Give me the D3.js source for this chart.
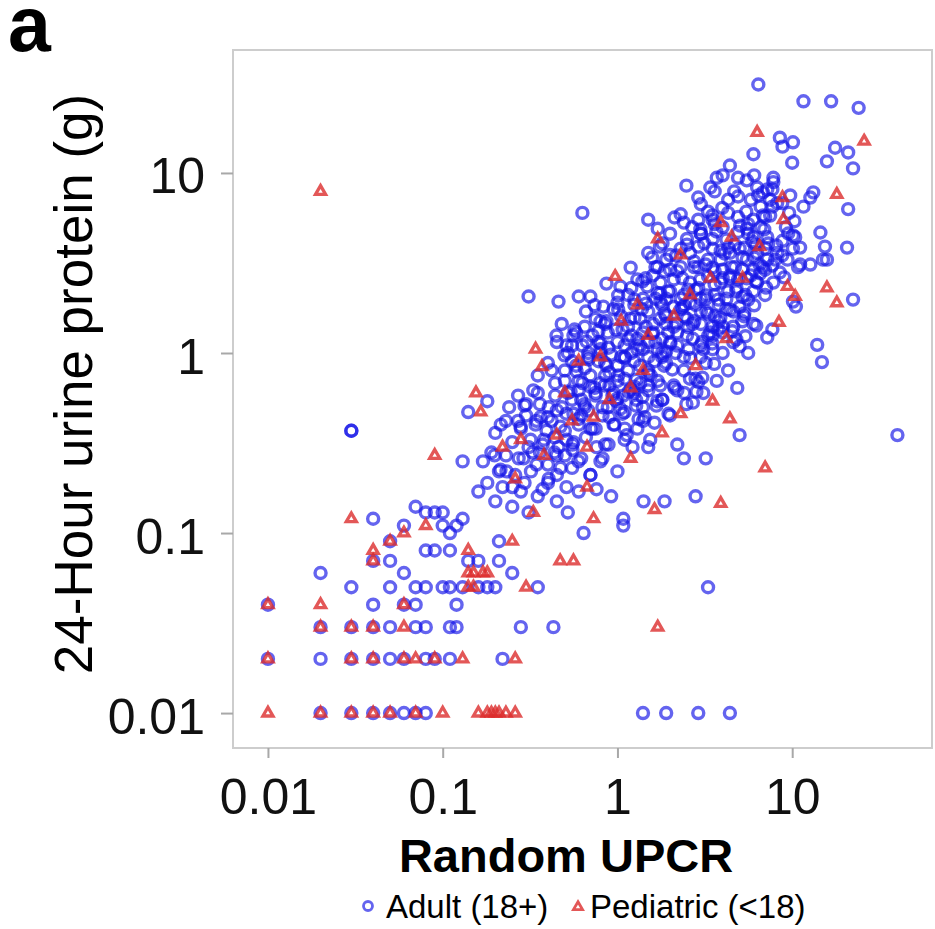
<!DOCTYPE html>
<html>
<head>
<meta charset="utf-8">
<script src="https://cdn.jsdelivr.net/npm/d3@7"></script>
<style>
  body { margin: 0; background: #fff; }
  svg { display: block; font-family: "Liberation Sans", Arial, sans-serif; }
</style>
</head>
<body>
<svg width="935" height="929"></svg>
<script>
// Adult (18+) points: [random UPCR, 24-hour urine protein (g)]
const adult = [
  // quantized low values
  [0.01,0.02],[0.01,0.04],
  [0.02,0.01],[0.03,0.01],[0.04,0.01],[0.05,0.01],[0.06,0.01],[0.07,0.01],[0.08,0.01],
  [1.4,0.01],[1.9,0.01],[2.9,0.01],[4.4,0.01],
  [0.02,0.02],[0.03,0.02],[0.04,0.02],[0.05,0.02],[0.06,0.02],[0.08,0.02],[0.09,0.02],[0.11,0.02],[0.22,0.02],
  [0.02,0.03],[0.03,0.03],[0.04,0.03],[0.05,0.03],[0.07,0.03],[0.08,0.03],[0.11,0.03],[0.12,0.03],[0.28,0.03],[0.43,0.03],
  [0.04,0.04],[0.06,0.04],[0.07,0.04],[0.12,0.04],
  [0.03,0.05],[0.05,0.05],[0.07,0.05],[0.08,0.05],[0.1,0.05],[0.11,0.05],[0.13,0.05],[0.16,0.05],[0.18,0.05],[0.2,0.05],[0.35,0.05],[3.3,0.05],
  [0.02,0.06],[0.06,0.06],[0.25,0.06],
  [0.04,0.07],[0.05,0.07],[0.14,0.07],[0.16,0.07],[0.21,0.07],
  [0.08,0.08],[0.09,0.08],[0.11,0.08],
  [0.05,0.09],[0.21,0.09],
  [0.06,0.11],[0.07,0.14],[0.08,0.13],[0.09,0.13],[0.1,0.13],[0.1,0.11],[0.11,0.1],[0.12,0.11],[0.13,0.12],[0.04,0.12],
  [0.03,0.37],[0.03,0.37],[0.13,0.25],
  // outliers and upper right
  [40,0.35],[0.63,6.0],
  [6.4,31],[11.6,25],[16.7,25],[24,23],[8.5,15.7],[10.1,14.8],[8.8,14],[6.0,12.7],[10,11.4],[4.4,11],
  [17.6,13.8],[20.9,13],[15.8,11.6],[22.3,10.6],[20.9,6.3],[22.3,1.98],[13.9,1.11],[14.8,0.89],
  [7.2,1.22],[7.7,1.35],[10.1,1.93],[10.5,1.81],[14.5,4.67],[15.4,3.9],[15.8,3.3],[20.6,3.85],
  [12.7,7.3],[11.6,6.5],[7.8,8.9],[7.2,8.1],[10.4,4.4],[10.8,3.0],[12.7,3.1],[13.2,7.8],
  // lower right scatter
  [0.92,0.16],[1.08,0.12],[1.08,0.11],[1.41,0.15],[1.86,0.15],[2.8,0.16],[2.4,0.26],[3.2,0.26],
  [4.85,0.64],[5.0,0.35],[2.7,0.53],[1.69,0.54],[2.2,0.31],[0.64,0.1],
  // main cluster, top to bottom
  [3.7,9.4],[4.0,9.7],[4.9,9.4],[5.5,9.1],[7.8,9.4],[6.06,9.7],[7.48,7.1],[9.74,7.5],
  [3.6,7.9],[6.3,8.3],[6.8,7.8],[7.7,8.1],[4.3,7.1],[4.9,7.4],[5.8,7.1],[3.0,6.7],[6.6,6.5],[7.7,6.5],
  [3.3,6.1],[2.3,5.9],[1.5,5.5],[2.4,5.3],[2.9,5.5],[3.5,5.5],[4.3,6.0],[4.9,5.7],[4.0,5.0],[6.0,5.5],[7.0,5.7],
  [1.7,4.9],[4.9,4.7],[5.5,4.9],[6.6,5.0],[6.0,4.4],[7.2,4.4],[10.1,4.5],[3.0,4.6],[3.5,4.3],[2.5,4.3],[2.0,4.6],
  [2.98,4.86],[3.49,5.8],[4.2,4.27],[5.32,3.85],[7.29,4.06],[8.77,3.48],
  [2.48,8.5],[2.9,7.3],[3.4,8.3],[3.98,6.4],[4.66,7.9],[5.46,6.1],[6.39,7.5],[7.48,5.8],[8.77,6.8],[10.3,5.4],
  [2.68,5.0],[3.14,4.06],[3.68,4.73],[4.31,3.85],[5.04,5.1],[5.91,4.16],[6.92,4.86],[8.1,3.96],[9.49,4.61],
  [11.1,3.85],[2.12,5.66],[1.81,4.06],
  [1.5,3.6],[1.65,3.0],[1.9,3.3],[2.3,3.8],[2.6,3.6],[2.9,3.9],[2.3,3.0],[2.9,3.0],[3.5,3.8],[3.9,3.3],
  [4.4,3.6],[5.0,3.8],[5.5,3.3],[6.3,3.6],[7.2,3.3],[8.2,3.6],[9.4,3.3],[10.1,3.8],[11.1,3.1],[15.0,3.3],
  [3.2,3.1],[4.0,2.9],[4.7,3.0],[6.0,2.9],[6.8,3.0],[2.0,2.9],[1.75,3.9],
  [1.58,3.39],[1.86,2.84],[2.17,3.48],[2.54,2.25],[2.75,3.22],[3.23,2.09],[3.49,2.98],[4.09,3.57],[4.79,2.2],
  [5.18,2.91],[6.06,3.39],[7.1,2.31],[7.69,3.06],[9.0,2.63],[1.76,2.14],[2.98,2.56],[4.42,2.7],[6.56,2.77],
  [3.78,1.98],[5.6,1.98],[1.19,2.98],[1.39,2.5],[1.01,2.09],[0.865,2.43],[1.25,1.98],
  [0.70,2.06],[0.83,1.81],[1.04,2.34],[1.3,2.56],[1.48,2.34],[1.76,2.46],[2.1,2.56],[2.6,2.46],[3.3,2.66],
  [3.9,2.46],[4.9,2.56],[6.3,2.46],[7.8,2.46],[8.5,2.8],[0.31,2.06],[0.46,1.93],[0.6,2.06],[1.15,2.1],
  [1.4,2.0],[1.7,2.15],[2.0,2.2],[2.4,2.1],[2.8,2.25],[3.0,2.0],[3.6,2.1],[4.3,2.2],[5.4,2.1],[5.8,2.7],
  [7.0,2.1],[1.6,2.7],[2.2,2.85],[3.6,2.85],[1.9,2.0],
  [0.66,1.7],[0.75,1.55],[0.85,1.45],[0.95,1.75],[1.05,1.6],[1.15,1.4],[1.25,1.85],[1.35,1.55],[1.5,1.7],
  [1.6,1.45],[1.8,1.85],[1.9,1.6],[2.1,1.4],[2.3,1.75],[2.5,1.55],[2.8,1.85],[3.0,1.45],[3.3,1.65],[3.8,1.5],
  [4.2,1.75],[4.6,1.4],[5.3,1.6],[6.0,1.45],[3.5,1.4],[4.0,1.3],[5.4,1.24],[5.0,1.09],[0.48,1.45],[0.56,1.25],
  [0.74,1.84],[0.865,1.5],[1.01,1.74],[1.16,1.19],[1.25,1.57],[1.46,1.88],[1.58,1.28],[1.86,1.66],[2.01,1.13],
  [2.35,1.79],[2.54,1.39],[2.98,1.1],[3.23,1.7],[3.78,1.35],[4.42,1.74],[5.18,1.5],[6.06,1.84],[0.8,1.13],
  [1.35,1.1],[2.17,1.46],[3.49,1.13],[4.79,1.19],[1.76,1.93],[1.07,1.35],
  [2.41,1.84],[2.75,1.5],[3.31,1.25],[3.88,1.57],[4.54,1.32],[5.32,1.66],[6.23,1.42],
  [0.448,1.25],[0.511,1.1],[0.568,1.35],[0.665,1.16],[0.778,1.32],[0.889,1.07],
  [0.45,1.15],[0.52,1.0],[0.58,1.3],[0.63,1.1],[0.68,0.95],[0.72,1.25],[0.8,1.05],[0.88,1.3],[0.92,0.98],
  [1.0,1.15],[1.1,0.95],[1.2,1.25],[1.3,1.05],[1.4,1.3],[1.5,0.95],[1.65,1.15],[1.8,1.0],[1.95,1.3],[2.2,1.1],
  [2.4,0.95],[2.7,1.2],[3.1,1.05],[3.5,1.25],[4.0,1.0],[4.6,1.15],[5.6,1.0],
  [0.498,0.97],[0.583,0.79],[0.683,0.92],[0.74,0.64],[0.865,0.85],[0.936,0.58],[1.1,0.94],[1.28,0.71],
  [1.39,0.57],[1.63,0.9],[1.76,0.66],[2.06,0.81],[2.41,0.6],[2.61,0.94],[3.06,0.73],[3.58,0.87],[0.539,0.61],
  [0.8,1.0],[1.19,0.63],[1.9,1.02],[2.83,0.61],[1.01,0.75],[0.63,0.68],[1.5,0.77],
  [0.843,0.66],[0.987,0.54],[1.16,0.61],[1.07,0.46],[1.28,0.51],[1.43,0.44],
  [1.5,0.66],[1.81,0.55],[2.12,0.64],[2.48,0.52],[2.9,0.69],[1.96,0.46],[1.63,0.41],
  [0.35,0.75],[0.4,0.88],[0.44,0.68],[0.5,0.8],[0.55,0.9],[0.6,0.7],[0.65,0.82],[0.7,0.65],[0.78,0.9],
  [0.85,0.75],[0.9,0.66],[1.0,0.85],[1.1,0.72],[1.25,0.9],[1.35,0.68],[1.5,0.8],[1.7,0.7],[1.9,0.88],
  [2.1,0.66],[2.4,0.8],[2.8,0.72],[3.2,0.88],[3.7,0.7],[4.3,0.8],
  [0.24,0.5],[0.27,0.58],[0.3,0.45],[0.33,0.62],[0.36,0.52],[0.4,0.44],[0.44,0.58],[0.48,0.5],[0.52,0.6],
  [0.56,0.46],[0.62,0.55],[0.68,0.48],[0.75,0.6],[0.82,0.5],[0.9,0.44],[1.0,0.56],[1.1,0.47],[1.25,0.6],
  [1.4,0.5],[2.0,0.45],[3.1,0.6],[0.18,0.54],[0.14,0.47],
  [0.294,0.51],[0.344,0.42],[0.404,0.5],[0.436,0.34],[0.511,0.46],[0.553,0.31],[0.648,0.52],[0.701,0.38],
  [0.821,0.45],[0.889,0.31],[1.04,0.49],[1.13,0.35],[1.32,0.43],[1.54,0.33],[1.67,0.51],[0.318,0.33],
  [0.472,0.39],[0.759,0.3],[1.22,0.3],[0.598,0.43],[0.373,0.31],[0.961,0.4],
  [0.279,0.39],[0.327,0.28],[0.393,0.37],[0.448,0.27],[0.511,0.33],[0.363,0.44],
  [0.2,0.36],[0.23,0.42],[0.25,0.32],[0.28,0.38],[0.31,0.3],[0.34,0.4],[0.38,0.33],[0.42,0.42],[0.46,0.3],
  [0.5,0.37],[0.56,0.32],[0.6,0.4],[0.66,0.34],[0.75,0.38],[0.85,0.31],[0.95,0.4],[1.1,0.33],[1.3,0.38],
  [1.5,0.3],[0.215,0.4],
  [0.198,0.27],[0.232,0.22],[0.272,0.26],[0.294,0.19],[0.344,0.24],[0.404,0.2],[0.436,0.28],[0.511,0.18],
  [0.598,0.25],[0.701,0.21],[0.821,0.26],[0.251,0.18],[0.373,0.175],[0.553,0.29],[0.214,0.225],[0.472,0.23],
  [0.759,0.175],
  [0.17,0.25],[0.19,0.28],[0.21,0.22],[0.23,0.27],[0.26,0.21],[0.29,0.26],[0.32,0.22],[0.36,0.28],[0.4,0.24],
  [0.45,0.21],[0.5,0.27],[0.55,0.23],[0.62,0.26],[0.7,0.21],[0.8,0.25],[1.0,0.22],
  [0.16,0.17],[0.18,0.19],[0.2,0.15],[0.22,0.18],[0.25,0.14],[0.28,0.17],[0.31,0.13],[0.35,0.16],[0.4,0.19],
  [0.45,0.15],[0.52,0.13],[0.6,0.17],
  // dense core
  [0.55,0.55],[0.6,0.62],[0.65,0.5],[0.7,0.75],[0.75,0.58],[0.8,0.68],[0.85,0.88],[0.9,0.78],[0.95,0.6],
  [1.0,0.7],[1.05,0.95],[1.1,1.1],[1.15,0.8],[1.2,1.0],[1.25,0.65],[1.3,1.2],[1.35,0.85],[1.4,1.05],
  [1.45,1.4],[1.5,1.15],[1.55,0.75],[1.6,1.3],[1.7,1.05],[1.75,1.55],[1.8,1.2],[1.85,0.85],[1.9,1.45],
  [2.0,1.15],[2.1,1.8],[2.2,1.3],[2.3,2.0],[2.4,1.6],[2.5,1.25],[2.6,1.9],[2.7,1.45],[2.9,2.3],[3.0,1.7],
  [3.2,2.0],[3.4,1.3],[3.6,2.4],[3.8,1.85],[4.0,2.6],[4.2,2.0],[4.5,3.0],[4.8,2.3],[5.2,3.4],[5.5,2.6],
  [6.2,4.0],[6.5,3.1],[7.0,3.8],
  [0.45,0.48],[0.5,0.7],[0.58,0.85],[0.62,0.45],[0.68,1.0],[0.72,0.38],[0.78,1.15],[0.88,0.5],[0.98,1.35],
  [1.08,0.58],[1.18,1.55],[1.28,0.55],[1.38,1.75],[1.5,0.62],[1.65,2.0],[1.8,0.95],[1.95,2.2],[2.15,1.0],
  [2.35,2.6],[2.55,1.05],[2.75,3.0],[3.05,1.15],[3.3,3.3],[3.6,1.6],[3.9,3.7],[4.4,2.6],[4.7,4.0],[5.0,1.8],
  [5.6,4.6],[6.0,2.2],
  [1.0,1.9],[1.2,2.3],[1.45,2.6],[1.7,3.0],[2.0,3.5],[2.5,4.0],[3.0,4.6],[3.6,5.2],[0.8,1.5],[0.65,1.4],
  [0.55,1.1],[0.42,0.8],[0.35,0.6],[0.3,0.52],[0.27,0.42],
  [1.1,0.38],[1.4,0.42],[1.8,0.55],[2.2,0.62],[2.6,0.72],[3.0,0.95],[3.5,1.05],[4.0,1.4],[4.6,1.7],
  [5.2,2.05],[6.2,2.5],[7.0,2.9],[8.0,3.3],[8.8,4.2],[9.2,5.0],[9.6,6.0],[8.2,6.8],[6.8,5.8],[5.6,5.2]
];

// Pediatric (<18) points
const pediatric = [
  [0.01,0.01],[0.02,0.01],[0.03,0.01],[0.04,0.01],[0.05,0.01],[0.07,0.01],[0.1,0.01],
  [0.16,0.01],[0.18,0.01],[0.19,0.01],[0.2,0.01],[0.21,0.01],[0.23,0.01],[0.26,0.01],
  [0.01,0.02],[0.03,0.02],[0.04,0.02],[0.06,0.02],[0.07,0.02],[0.09,0.02],[0.13,0.02],[0.26,0.02],
  [0.02,0.03],[0.03,0.03],[0.04,0.03],[0.06,0.03],[1.7,0.03],
  [0.01,0.04],[0.02,0.04],[0.06,0.04],
  [0.14,0.05],[0.15,0.05],[0.3,0.05],
  [0.14,0.06],[0.15,0.06],[0.17,0.06],[0.18,0.06],
  [0.04,0.07],[0.47,0.07],[0.56,0.07],
  [0.04,0.08],[0.14,0.08],
  [0.05,0.09],[0.25,0.09],
  [0.06,0.1],[0.08,0.11],[0.03,0.12],
  [0.09,0.27],[0.155,0.6],[0.165,0.47],[0.02,7.9],
  [0.34,1.05],[0.37,0.84],[1.19,0.64],[0.73,0.44],[1.8,0.36],[0.67,0.3],[1.19,0.26],[0.67,0.18],
  [2.3,0.46],[3.5,0.54],[4.4,0.43],[0.73,0.12],[1.63,0.135],[7,0.23],[3.9,0.146],
  [6.3,16.8],[25.8,15],[18,7.6],[15.8,2.3],[18,1.9],[8.4,1.48],[9.4,2.34],[10.4,2.06],[0.97,2.66],
  [8.8,7.3],[8.9,5.5],[1.7,4.3],[4.5,4.4],[3.9,5.3],
  [0.5,0.6],[0.45,0.35],[0.38,0.27],[0.28,0.33],[0.22,0.3],[0.6,0.9],[0.8,0.95],[1.5,1.25],[2.1,1.6],
  [2.6,2.1],[1.3,1.85],[3.4,2.6],[2.3,3.5],[5.2,2.6],[6.5,3.9],[1.05,1.5],[4.2,1.2],[0.9,0.55],
  [2.8,0.85],[1.4,0.8],[0.55,0.42],[0.26,0.2],[0.33,0.13]
];

const tickValues = [0.01, 0.1, 1, 10];
const tickLabels = ["0.01", "0.1", "1", "10"];
const legendItems = ["Adult (18+)", "Pediatric (<18)"];

const svg = d3.select("svg");
const plotLeft = 233, plotRight = 932, plotTop = 50, plotBottom = 748;

const x = d3.scaleLog()
  .domain([Math.pow(10, -2.2), Math.pow(10, 1.8)])
  .range([plotLeft, plotRight]);

const y = d3.scaleLog()
  .domain([Math.pow(10, -2.194), Math.pow(10, 1.683)])
  .range([plotBottom, plotTop]);

const blue = "rgb(20,20,230)";
const red = "rgb(220,45,45)";
const tri = d3.symbol().type(d3.symbolTriangle).size(44);

// panel letter
svg.append("text")
  .attr("x", 8)
  .attr("y", 51)
  .style("font-size", "77px")
  .style("font-weight", "bold")
  .text("a");

// frame
svg.append("rect")
  .attr("x", plotLeft)
  .attr("y", plotTop)
  .attr("width", plotRight - plotLeft)
  .attr("height", plotBottom - plotTop)
  .attr("fill", "none")
  .attr("stroke", "#cdcdcd")
  .attr("stroke-width", 2);

// axes
const xAxis = d3.axisBottom(x)
  .tickValues(tickValues)
  .tickFormat((d, i) => tickLabels[i])
  .tickSize(10)
  .tickPadding(20);

const gx = svg.append("g")
  .attr("transform", `translate(0, ${plotBottom})`)
  .call(xAxis);

const yAxis = d3.axisLeft(y)
  .tickValues(tickValues)
  .tickFormat((d, i) => tickLabels[i])
  .tickSize(12)
  .tickPadding(16);

const gy = svg.append("g")
  .attr("transform", `translate(${plotLeft}, 0)`)
  .call(yAxis);

[gx, gy].forEach(g => {
  g.select(".domain").remove();
  g.selectAll(".tick line").attr("stroke", "#a8a8a8").attr("stroke-width", 2);
  g.selectAll(".tick text")
    .attr("fill", "#111")
    .style("font-size", "50px")
    .style("font-family", '"Liberation Sans", Arial, sans-serif');
});
gy.selectAll(".tick text").attr("dy", "0.4em");

// points
svg.append("g")
  .selectAll("circle")
  .data(adult)
  .enter()
  .append("circle")
  .attr("cx", d => x(d[0]))
  .attr("cy", d => y(d[1]))
  .attr("r", 5.5)
  .attr("fill", "none")
  .attr("stroke", blue)
  .attr("stroke-opacity", 0.66)
  .attr("stroke-width", 3.4);

svg.append("g")
  .selectAll("path")
  .data(pediatric)
  .enter()
  .append("path")
  .attr("d", tri)
  .attr("transform", d => `translate(${x(d[0])}, ${y(d[1])})`)
  .attr("fill", "none")
  .attr("stroke", red)
  .attr("stroke-opacity", 0.8)
  .attr("stroke-width", 3.3);

// axis titles
svg.append("text")
  .attr("x", 566)
  .attr("y", 872)
  .attr("text-anchor", "middle")
  .style("font-size", "47px")
  .style("font-weight", "bold")
  .text("Random UPCR");

svg.append("text")
  .attr("transform", "rotate(-90)")
  .attr("x", -384)
  .attr("y", 92)
  .attr("text-anchor", "middle")
  .style("font-size", "53px")
  .text("24-Hour urine protein (g)");

// legend
const legend = svg.append("g");
legend.append("circle")
  .attr("cx", 368)
  .attr("cy", 906)
  .attr("r", 4.5)
  .attr("fill", "none")
  .attr("stroke", blue)
  .attr("stroke-opacity", 0.66)
  .attr("stroke-width", 2.8);
legend.append("text")
  .attr("x", 386)
  .attr("y", 918)
  .style("font-size", "33px")
  .text(legendItems[0]);
legend.append("path")
  .attr("d", d3.symbol().type(d3.symbolTriangle).size(36))
  .attr("transform", "translate(578, 907)")
  .attr("fill", "none")
  .attr("stroke", red)
  .attr("stroke-opacity", 0.8)
  .attr("stroke-width", 2.8);
legend.append("text")
  .attr("x", 590)
  .attr("y", 918)
  .style("font-size", "33px")
  .text(legendItems[1]);
</script>
</body>
</html>
